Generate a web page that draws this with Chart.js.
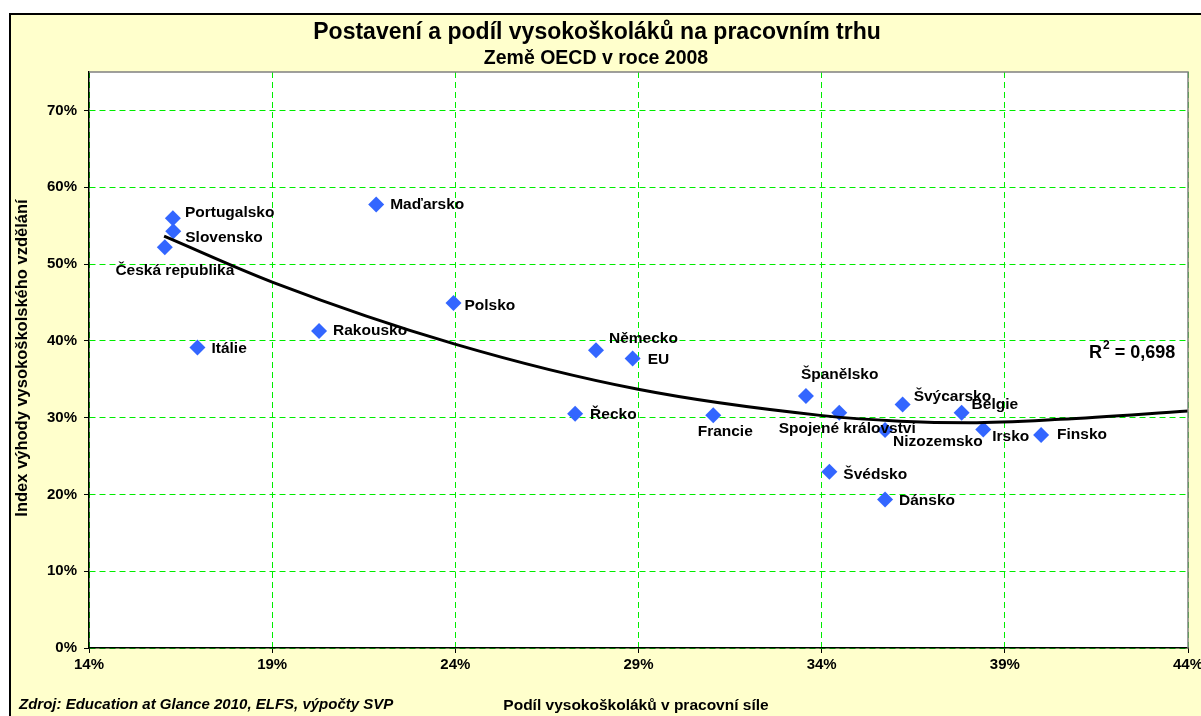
<!DOCTYPE html>
<html>
<head>
<meta charset="utf-8">
<script src="https://cdn.jsdelivr.net/npm/chart.js@4.4.1/dist/chart.umd.min.js"></script>
<style>
html,body{margin:0;padding:0;background:#fff;}
#wrap{width:1201px;height:716px;}
</style>
</head>
<body>
<div id="wrap"><canvas id="c" width="1201" height="716"></canvas></div>
<script>
// ---- data (percent units) ----
const countries = ["Portugalsko","Slovensko","Česká republika","Itálie","Maďarsko","Rakousko","Polsko","Německo","EU","Řecko","Francie","Španělsko","Spojené království","Švýcarsko","Belgie","Nizozemsko","Irsko","Finsko","Švédsko","Dánsko"];
const shareGraduates = [16.29,16.30,16.07,16.96,21.84,20.28,23.95,27.84,28.84,27.27,31.04,33.57,34.48,36.21,37.82,35.73,38.41,39.99,34.21,35.73];
const advantageIndex = [55.97,54.27,52.18,39.13,57.74,41.29,44.91,38.77,37.69,30.51,30.29,32.81,30.64,31.72,30.64,28.37,28.46,27.72,22.94,19.32];
// polynomial trendline
const trendX = [16.05,19.02,23.99,28.99,33.96,36.14,38.05,40.51,44.0];
const trendY = [53.62,47.61,39.56,33.68,30.29,29.54,29.33,29.77,30.85];
const xTickValues = [14,19,24,29,34,39,44];
const yTickValues = [0,10,20,30,40,50,60,70];
const rSquaredText = "0,698";

// label placement relative to each marker (not data)
const labelPlacement = [
  [12,-5,'left'],[12,7,'left'],[10,23,'center'],[14,1,'left'],[14,0,'left'],
  [14,0,'left'],[11,3,'left'],[13,-12,'left'],[15,1,'left'],[15,1,'left'],
  [12,16,'center'],[-5,-21,'left'],[8,16,'center'],[11,-8,'left'],[10,-8,'left'],
  [8,12,'left'],[9,7,'left'],[16,0,'left'],[14,3,'left'],[14,1,'left']
];

const FONT = "'Liberation Sans', Arial, sans-serif";
const points = shareGraduates.map((x,i)=>({x:x,y:advantageIndex[i]}));
const trend = trendX.map((x,i)=>({x:x,y:trendY[i]}));

const decor = {
  id:'decor',
  beforeDraw(chart){
    const ctx = chart.ctx, a = chart.chartArea;
    ctx.save();
    ctx.fillStyle='#ffffff'; ctx.fillRect(0,0,chart.width,chart.height);
    ctx.fillStyle='#000000'; ctx.fillRect(9,13,chart.width-9,chart.height-13);
    ctx.fillStyle='#FFFFCC'; ctx.fillRect(11,15,chart.width-11,chart.height-15);
    ctx.fillStyle='#ffffff'; ctx.fillRect(a.left,a.top,a.right-a.left,a.bottom-a.top);
    ctx.restore();
  },
  afterDatasetsDraw(chart){
    const ctx = chart.ctx, a = chart.chartArea;
    const xs = chart.scales.x, ys = chart.scales.y;
    ctx.save();
    // plot border (top/right)
    ctx.strokeStyle='#808080'; ctx.lineWidth=1.5;
    ctx.beginPath(); ctx.moveTo(a.left,a.top); ctx.lineTo(a.right,a.top); ctx.lineTo(a.right,a.bottom); ctx.stroke();
    // point labels
    ctx.fillStyle='#000'; ctx.font='bold 15.5px '+FONT; ctx.textBaseline='middle';
    countries.forEach((name,i)=>{
      const px = xs.getPixelForValue(shareGraduates[i]);
      const py = ys.getPixelForValue(advantageIndex[i]);
      const p = labelPlacement[i];
      ctx.textAlign = p[2];
      ctx.fillText(name, px+p[0], py+p[1]);
    });
    // R^2 label
    ctx.textAlign='left'; ctx.textBaseline='alphabetic';
    ctx.font='bold 18px '+FONT;
    let x = 1089, y = 358;
    ctx.fillText('R',x,y); x += ctx.measureText('R').width;
    ctx.font='bold 12px '+FONT; ctx.fillText('2',x+1,y-9); x += ctx.measureText('2').width+1;
    ctx.font='bold 18px '+FONT; ctx.fillText(' = '+rSquaredText,x,y);
    ctx.restore();
  },
  afterDraw(chart){
    const ctx = chart.ctx;
    ctx.save();
    ctx.fillStyle='#000'; ctx.textAlign='center'; ctx.textBaseline='middle';
    ctx.font='bold 23px '+FONT;
    ctx.fillText('Postavení a podíl vysokoškoláků na pracovním trhu',597,33);
    ctx.font='bold 19.5px '+FONT;
    ctx.fillText('Země OECD v roce 2008',596,59);
    ctx.font='bold 15.5px '+FONT;
    ctx.fillText('Podíl vysokoškoláků v pracovní síle',636,706);
    ctx.save();
    ctx.translate(22,358); ctx.rotate(-Math.PI/2);
    ctx.font='bold 16.5px '+FONT;
    ctx.fillText('Index výhody vysokoškolského vzdělání',0,0);
    ctx.restore();
    ctx.textAlign='left';
    ctx.font='italic bold 15px '+FONT;
    ctx.fillText('Zdroj: Education at Glance 2010, ELFS, výpočty SVP',19,705);
    ctx.restore();
  }
};

const gridGreen = '#00EE00';
new Chart(document.getElementById('c'),{
  type:'scatter',
  data:{datasets:[
    {type:'line',data:trend,borderColor:'#000',borderWidth:3,pointRadius:0,fill:false,cubicInterpolationMode:'monotone',showLine:true},
    {data:points,pointStyle:'rectRot',pointRadius:8,pointHoverRadius:8,backgroundColor:'#3366FF',borderColor:'#3366FF',borderWidth:0}
  ]},
  plugins:[decor],
  options:{
    responsive:false,animation:false,devicePixelRatio:1,
    layout:{padding:{left:0,top:72,right:13,bottom:0}},
    plugins:{legend:{display:false},tooltip:{enabled:false},title:{display:false}},
    scales:{
      x:{type:'linear',min:14,max:44,
        afterBuildTicks(s){s.ticks = xTickValues.map(v=>({value:v}));},
        afterFit(s){s.height=68; s.paddingLeft=0; s.paddingRight=0;},
        ticks:{callback:v=>v+'%',color:'#000',font:{family:FONT,size:15,weight:'bold'},padding:3,autoSkip:false,maxRotation:0},
        grid:{color:gridGreen,lineWidth:1,tickLength:5,tickColor:'#000',tickBorderDash:[],tickWidth:1},
        border:{display:true,color:'#000',width:1.5,dash:[6,4]}
      },
      y:{type:'linear',min:0,max:75,
        afterBuildTicks(s){s.ticks = yTickValues.map(v=>({value:v}));},
        afterFit(s){s.width=89; s.paddingTop=0; s.paddingBottom=0;},
        ticks:{callback:v=>v+'%',color:'#000',font:{family:FONT,size:15,weight:'bold'},padding:7,autoSkip:false},
        grid:{color:gridGreen,lineWidth:1,tickLength:5,tickColor:'#000',tickBorderDash:[],tickWidth:1},
        border:{display:true,color:'#000',width:1.5,dash:[6,4]}
      }
    }
  }
});
</script>
</body>
</html>
